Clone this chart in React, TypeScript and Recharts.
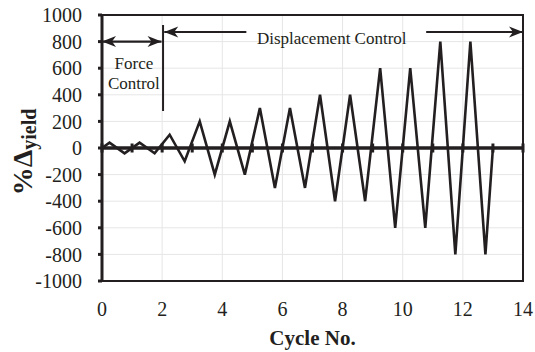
import {
  LineChart,
  Line,
  XAxis,
  YAxis,
  CartesianGrid,
  ReferenceArea,
  ReferenceLine,
  ReferenceDot,
} from 'recharts'

// loading protocol: cycle position vs. drift as % of yield displacement
const cycleNo = [
  0, 0.25, 0.75, 1.25, 1.75, 2.25, 2.75, 3.25, 3.75, 4.25, 4.75, 5.25, 5.75, 6.25, 6.75,
  7.25, 7.75, 8.25, 8.75, 9.25, 9.75, 10.25, 10.75, 11.25, 11.75, 12.25, 12.75, 13,
]
const driftPct = [
  0, 40, -40, 40, -40, 100, -100, 200, -200, 200, -200, 300, -300, 300, -300,
  400, -400, 400, -400, 600, -600, 600, -600, 800, -800, 800, -800, 0,
]

// zero baseline with a tick at every cycle
const baselineCycle = [0, 1, 2, 3, 4, 5, 6, 7, 8, 9, 10, 11, 12, 13, 14]
const baselineValue = [0, 0, 0, 0, 0, 0, 0, 0, 0, 0, 0, 0, 0, 0, 0]

const xTicks = [0, 2, 4, 6, 8, 10, 12, 14]
const yTicks = [-1000, -800, -600, -400, -200, 0, 200, 400, 600, 800, 1000]

const protocol = cycleNo.map((c, i) => ({ cycle: c, drift: driftPct[i] }))
const baseline = baselineCycle.map((c, i) => ({ cycle: c, drift: baselineValue[i] }))

const INK = '#231f20'
const FONT = 'Liberation Serif'

function head(tx: number, ty: number, dir: number) {
  const len = 14
  const half = 5.5
  const notch = 4
  return `M${tx},${ty} L${tx - dir * len},${ty - half} L${tx - dir * (len - notch)},${ty} L${tx - dir * len},${ty + half} Z`
}

// ReferenceLine shape with optional arrow heads at either end
const arrow = (start: boolean, end: boolean) => (p: any) => {
  const { x1, y1, x2, y2 } = p
  const dir = x2 >= x1 ? 1 : -1
  return (
    <g>
      <line x1={x1} y1={y1} x2={x2} y2={y2} stroke={INK} strokeWidth={2.2} />
      {start && <path d={head(x1, y1, -dir)} fill={INK} />}
      {end && <path d={head(x2, y2, dir)} fill={INK} />}
    </g>
  )
}

const textAt = (lines: string[]) => (p: any) => (
  <text x={p.cx} y={p.cy} textAnchor="middle" fontFamily={FONT} fontSize={17} fill={INK}>
    {lines.map((s, i) => (
      <tspan key={i} x={p.cx} dy={i === 0 ? 0 : 20}>
        {s}
      </tspan>
    ))}
  </text>
)

const tickDash = (p: any) => (
  <rect key={`d-${p.index}`} x={p.cx - 1.5} y={p.cy - 4.5} width={3} height={9} fill={INK} />
)

export default function App() {
  return (
    <div style={{ position: 'absolute', left: 0, top: 0 }}>
      <LineChart width={535} height={352} margin={{ top: 15, right: 12, bottom: 0, left: 0 }}>
        <CartesianGrid stroke="#e6e6e6" strokeWidth={1} />
        <XAxis
          type="number"
          dataKey="cycle"
          domain={[0, 14]}
          ticks={xTicks}
          interval={0}
          height={71}
          tickLine={false}
          tickSize={0}
          tickMargin={21}
          axisLine={{ stroke: INK, strokeWidth: 2 }}
          tick={{ fill: INK, fontSize: 20, fontFamily: FONT }}
          label={(props: any) => {
            const vb = props.viewBox
            return (
              <text
                x={vb.x + vb.width / 2}
                y={vb.y + 64}
                textAnchor="middle"
                fontFamily={FONT}
                fontWeight="bold"
                fontSize={21}
                fill={INK}
              >
                Cycle No.
              </text>
            )
          }}
        />
        <YAxis
          type="number"
          domain={[-1000, 1000]}
          ticks={yTicks}
          interval={0}
          width={102}
          tickSize={4}
          tickMargin={16}
          tickLine={{ stroke: INK, strokeWidth: 3 }}
          axisLine={{ stroke: INK, strokeWidth: 3 }}
          tick={{ fill: INK, fontSize: 20, fontFamily: FONT }}
          label={(props: any) => {
            const vb = props.viewBox
            const cx = vb.x + 22
            const cy = vb.y + vb.height / 2 + 4
            return (
              <text
                x={cx}
                y={cy}
                transform={`rotate(-90 ${cx} ${cy})`}
                textAnchor="middle"
                dominantBaseline="central"
                fontFamily={FONT}
                fontWeight="bold"
                fill={INK}
              >
                <tspan fontSize={28}>%Δ</tspan>
                <tspan fontSize={20} dy={7}>yield</tspan>
              </text>
            )
          }}
        />
        <ReferenceArea
          x1={0}
          x2={14}
          y1={-1000}
          y2={1000}
          fill="none"
          stroke={INK}
          strokeWidth={2}
          ifOverflow="visible"
        />
        <Line
          data={baseline}
          dataKey="drift"
          stroke={INK}
          strokeWidth={3.5}
          dot={tickDash}
          isAnimationActive={false}
        />
        <Line
          data={protocol}
          dataKey="drift"
          stroke={INK}
          strokeWidth={2.6}
          strokeLinejoin="miter"
          dot={false}
          isAnimationActive={false}
        />
        <ReferenceLine
          segment={[{ x: 0, y: 800 }, { x: 1.98, y: 800 }]}
          shape={arrow(true, true)}
          ifOverflow="visible"
        />
        <ReferenceLine
          segment={[{ x: 2.03, y: 925 }, { x: 2.03, y: 278 }]}
          stroke={INK}
          strokeWidth={2}
          ifOverflow="visible"
        />
        <ReferenceLine
          segment={[{ x: 2.07, y: 872 }, { x: 4.8, y: 872 }]}
          shape={arrow(true, false)}
          ifOverflow="visible"
        />
        <ReferenceLine
          segment={[{ x: 10.78, y: 872 }, { x: 14, y: 872 }]}
          shape={arrow(false, true)}
          ifOverflow="visible"
        />
        <ReferenceDot x={7.64} y={785} r={0} shape={textAt(['Displacement Control'])} ifOverflow="visible" />
        <ReferenceDot x={1.06} y={594} r={0} shape={textAt(['Force', 'Control'])} ifOverflow="visible" />
      </LineChart>
    </div>
  )
}
